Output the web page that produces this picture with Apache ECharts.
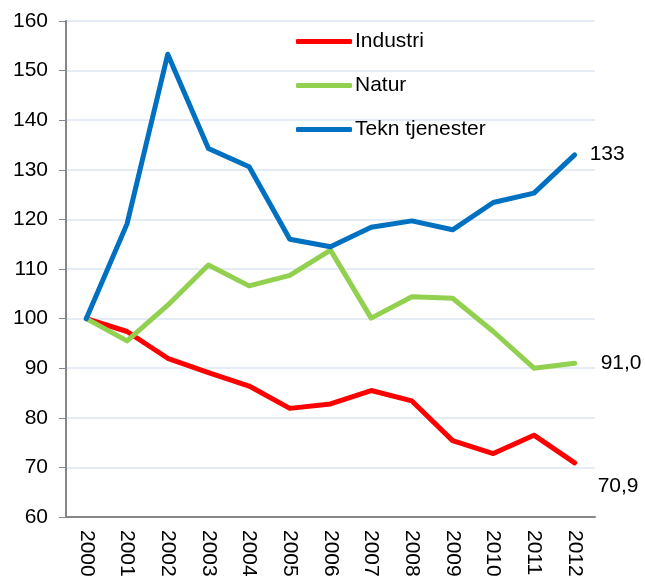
<!DOCTYPE html>
<html lang="no">
<head>
    <meta charset="UTF-8">
    <title>Indeks</title>
    <script src="https://cdn.jsdelivr.net/npm/echarts@6/dist/echarts.min.js"></script>
    <style>
        html, body { margin: 0; padding: 0; background: #fff; }
        #main { width: 645px; height: 576px; }
    </style>
</head>
<body>
<div id="main"></div>
<script>
    // data (index, 2000 = 100)
    var years = ['2000', '2001', '2002', '2003', '2004', '2005', '2006',
                 '2007', '2008', '2009', '2010', '2011', '2012'];
    var seriesNames = ['Industri', 'Natur', 'Tekn tjenester'];
    var industri = [100, 97.4, 92.0, 89.1, 86.4, 81.9, 82.8, 85.5, 83.4, 75.4, 72.8, 76.5, 70.9];
    var natur = [100, 95.5, 102.7, 110.8, 106.6, 108.7, 113.8, 100.1, 104.4, 104.1, 97.4, 90.0, 91.0];
    var tekn = [100, 119.1, 153.3, 134.3, 130.6, 116.0, 114.5, 118.4, 119.7, 117.9, 123.4, 125.3, 133.0];
    var endTexts = ['70,9', '91,0', '133'];
    var colors = ['#ff0000', '#92d050', '#0070c0'];

    var FONT = 'Liberation Sans, Arial, sans-serif';
    var FS = 21;

    function makeSeries(i, values, offset) {
        return {
            name: seriesNames[i],
            type: 'line',
            data: values,
            symbol: 'none',
            z: 3 + i,
            lineStyle: {width: 5, color: colors[i], cap: 'round', join: 'round'},
            itemStyle: {color: colors[i]},
            endLabel: {
                show: true,
                formatter: endTexts[i],
                distance: 0,
                offset: offset,
                color: '#000',
                fontSize: FS,
                fontFamily: FONT
            },
            emphasis: {disabled: true}
        };
    }

    var option = {
        animation: false,
        backgroundColor: '#fff',
        grid: {left: 66, top: 21, right: 50, bottom: 59, outerBoundsMode: 'none', containLabel: false},
        legend: {
            orient: 'vertical',
            left: 291,
            top: 26,
            itemWidth: 56,
            itemHeight: 5,
            itemGap: 23,
            icon: 'roundRect',
            data: seriesNames,
            textStyle: {fontSize: FS, color: '#000', fontFamily: FONT, padding: [0, 0, 0, -2]}
        },
        xAxis: {
            type: 'category',
            data: years,
            boundaryGap: true,
            axisLine: {lineStyle: {color: '#868686', width: 2}},
            axisTick: {show: false},
            axisLabel: {
                rotate: -90,
                margin: 13,
                fontSize: FS,
                color: '#000',
                fontFamily: FONT,
                interval: 0
            },
            splitLine: {show: false}
        },
        yAxis: {
            type: 'value',
            min: 60,
            max: 160,
            interval: 10,
            axisLine: {show: true, lineStyle: {color: '#868686', width: 2}},
            axisTick: {show: true, length: 7, lineStyle: {color: '#868686', width: 1}},
            axisLabel: {margin: 18, fontSize: FS, color: '#000', fontFamily: FONT},
            splitLine: {lineStyle: {color: '#dce6f2', width: 1.5}}
        },
        series: [
            makeSeries(0, industri, [23, 23]),
            makeSeries(1, natur, [26, 0]),
            makeSeries(2, tekn, [15, -1])
        ]
    };

    var myChart = echarts.init(document.getElementById('main'));
    myChart.setOption(option);
</script>
</body>
</html>
